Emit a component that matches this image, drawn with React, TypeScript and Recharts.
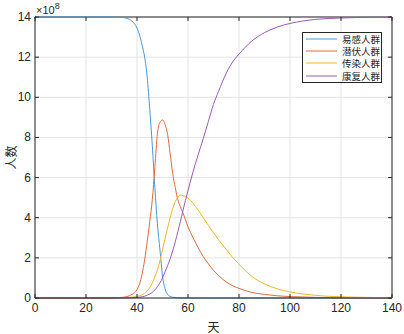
import { CartesianGrid, Legend, Line, LineChart, ReferenceLine, XAxis, YAxis } from "recharts";

// days since outbreak, values in units of 1e8 people
const days = [0, 10, 20, 30, 34, 36, 38, 40, 41, 42, 43, 44, 45, 46, 47, 48, 49, 50, 51, 52, 53, 54, 55, 56, 57, 58, 60, 62, 64, 66, 68, 70, 72, 75, 78, 80, 85, 90, 95, 100, 105, 110, 120, 130, 140];
const susceptible = [14, 14, 14, 14, 13.98, 13.93, 13.8, 13.45, 13.1, 12.6, 12.0, 11.0, 9.4, 7.6, 5.5, 3.7, 2.4, 1.1, 0.45, 0.18, 0.08, 0.04, 0.02, 0.01, 0.005, 0, 0, 0, 0, 0, 0, 0, 0, 0, 0, 0, 0, 0, 0, 0, 0, 0, 0, 0, 0];
const exposed = [0, 0, 0.0005, 0.005, 0.03, 0.07, 0.18, 0.42, 0.7, 1.2, 1.9, 2.8, 3.8, 4.9, 6.5, 8.2, 8.75, 8.87, 8.65, 8.15, 7.2, 6.2, 5.5, 4.9, 4.55, 4.25, 3.55, 3.0, 2.5, 2.06, 1.7, 1.38, 1.12, 0.8, 0.58, 0.48, 0.28, 0.18, 0.11, 0.07, 0.05, 0.03, 0.01, 0.005, 0];
const infected = [0, 0, 0, 0.002, 0.01, 0.02, 0.04, 0.08, 0.11, 0.16, 0.24, 0.36, 0.52, 0.75, 1.05, 1.4, 1.85, 2.4, 2.95, 3.5, 4.0, 4.45, 4.8, 5.02, 5.13, 5.1, 4.98, 4.72, 4.38, 4.0, 3.62, 3.25, 2.9, 2.42, 1.95, 1.68, 1.08, 0.7, 0.46, 0.3, 0.2, 0.13, 0.06, 0.03, 0.015];
const recovered = [0, 0, 0, 0.001, 0.003, 0.006, 0.012, 0.025, 0.04, 0.06, 0.09, 0.14, 0.2, 0.28, 0.4, 0.56, 0.76, 1.0, 1.3, 1.62, 1.95, 2.35, 2.8, 3.3, 3.8, 4.35, 5.35, 6.3, 7.15, 7.95, 8.8, 9.65, 10.3, 11.2, 11.85, 12.15, 12.8, 13.22, 13.5, 13.68, 13.8, 13.88, 13.95, 13.98, 13.99];

const xTicks = [0, 20, 40, 60, 80, 100, 120, 140];
const yTicks = [0, 2, 4, 6, 8, 10, 12, 14];

const series = [
  { key: "s", name: "易感人群", color: "#4a97d6" },
  { key: "e", name: "潜伏人群", color: "#e06a3e" },
  { key: "i", name: "传染人群", color: "#f0b82c" },
  { key: "r", name: "康复人群", color: "#9a5ab4" },
];

const data = days.map((day, idx) => ({
  day,
  s: susceptible[idx],
  e: exposed[idx],
  i: infected[idx],
  r: recovered[idx],
}));

// plot box (MATLAB style: closed box, ticks pointing inward)
const PLOT_LEFT = 35;
const PLOT_TOP = 17;
const PLOT_RIGHT = 392;
const PLOT_BOTTOM = 298;
const TICK = 4;

const axisColor = "#262626";
const numFont = "Liberation Sans, Arial, sans-serif";
const cjkFont = "Noto Sans CJK SC, sans-serif";

function XTick({ x, y, payload }: any) {
  return (
    <g>
      <line x1={x} x2={x} y1={PLOT_BOTTOM} y2={PLOT_BOTTOM - TICK} stroke={axisColor} />
      <line x1={x} x2={x} y1={PLOT_TOP} y2={PLOT_TOP + TICK} stroke={axisColor} />
      <text x={x} y={y + 14} textAnchor="middle" fontSize={12} fontFamily={numFont} fill={axisColor}>
        {payload.value}
      </text>
    </g>
  );
}

function YTick({ y, payload }: any) {
  return (
    <g>
      <line x1={PLOT_LEFT} x2={PLOT_LEFT + TICK} y1={y} y2={y} stroke={axisColor} />
      <line x1={PLOT_RIGHT} x2={PLOT_RIGHT - TICK} y1={y} y2={y} stroke={axisColor} />
      <text x={PLOT_LEFT - 4} y={y + 4} textAnchor="end" fontSize={12} fontFamily={numFont} fill={axisColor}>
        {payload.value}
      </text>
    </g>
  );
}

function LegendBox() {
  return (
    <div
      style={{
        border: "1px solid #262626",
        background: "#fff",
        width: 80,
        boxSizing: "border-box",
        fontFamily: cjkFont,
        fontSize: 9.5,
        lineHeight: "12px",
        color: axisColor,
        whiteSpace: "nowrap",
      }}
    >
      {series.map((s) => (
        <div key={s.key} style={{ display: "flex", alignItems: "center", height: 12.2 }}>
          <svg width={39} height={4} style={{ flex: "none" }}>
            <line x1={3} x2={34} y1={2} y2={2} stroke={s.color} strokeWidth={1} />
          </svg>
          <span>{s.name}</span>
        </div>
      ))}
    </div>
  );
}

export default function App() {
  return (
    <div style={{ position: "absolute", left: 0, top: 0, width: 404, height: 334, background: "#fff" }}>
      <LineChart
        width={404}
        height={334}
        data={data}
        margin={{ top: PLOT_TOP, right: 404 - PLOT_RIGHT, bottom: 0, left: 0 }}
      >
        <CartesianGrid stroke="#e3e3e3" horizontalValues={yTicks} verticalValues={xTicks} />
        <XAxis
          dataKey="day"
          type="number"
          domain={[0, 140]}
          ticks={xTicks}
          height={334 - PLOT_BOTTOM}
          tickLine={false}
          tickSize={0}
          tickMargin={0}
          stroke={axisColor}
          tick={<XTick />}
          label={{ value: "天", position: "insideBottom", offset: 2, fontSize: 12, fill: axisColor, fontFamily: cjkFont }}
        />
        <YAxis
          type="number"
          domain={[0, 14]}
          ticks={yTicks}
          width={PLOT_LEFT}
          tickLine={false}
          tickSize={0}
          tickMargin={0}
          stroke={axisColor}
          tick={<YTick />}
          label={{ value: "人数", angle: -90, position: "insideLeft", offset: 12, textAnchor: "middle", fontSize: 12, fill: axisColor, fontFamily: cjkFont }}
        />
        <ReferenceLine y={14} stroke={axisColor} />
        <ReferenceLine x={140} stroke={axisColor} />
        {series.map((s) => (
          <Line
            key={s.key}
            type="monotone"
            dataKey={s.key}
            name={s.name}
            stroke={s.color}
            strokeWidth={1}
            dot={false}
            isAnimationActive={false}
          />
        ))}
        <Legend
          layout="vertical"
          align="center"
          verticalAlign="middle"
          content={() => <LegendBox />}
          wrapperStyle={{ position: "absolute", left: 302, top: 32, width: 80 }}
        />
      </LineChart>
      <div
        style={{
          position: "absolute",
          left: 36,
          top: 1,
          fontFamily: numFont,
          fontSize: 11,
          color: axisColor,
        }}
      >
        ×10<sup style={{ fontSize: 9 }}>8</sup>
      </div>
    </div>
  );
}
